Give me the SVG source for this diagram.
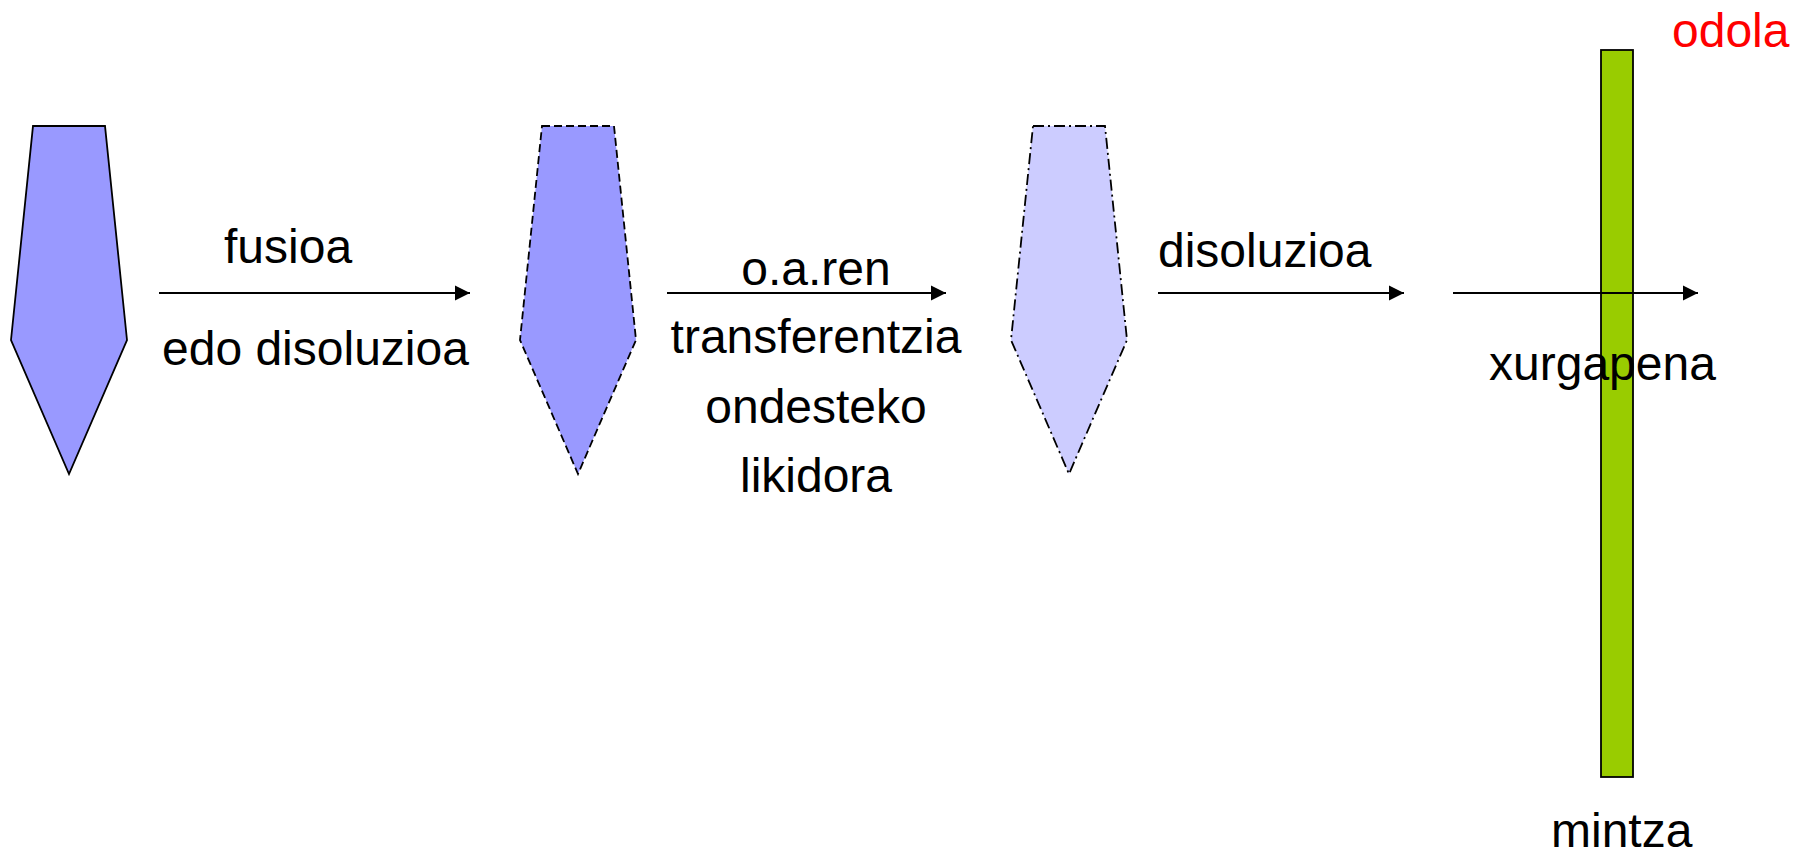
<svg xmlns="http://www.w3.org/2000/svg" width="1793" height="851" viewBox="0 0 1793 851">
<style>
text{font-family:"Liberation Sans",Arial,sans-serif;font-size:48px;fill:#000}
.shape{stroke:#000;stroke-width:1.8;stroke-linejoin:miter}
.dark{fill:#9999FF}
.light{fill:#CCCCFF}
.dash{stroke-dasharray:8 4}
.dashdot{stroke-dasharray:11 4 2 4}
.conn{stroke:#000;stroke-width:2;fill:none;marker-end:url(#ah)}
</style>
<defs>
<marker id="ah" markerUnits="userSpaceOnUse" markerWidth="16" markerHeight="16" refX="15" refY="8" orient="auto">
<path d="M0,0.5 L15,8 L0,15.5 Z" fill="#000"/>
</marker>
</defs>
<rect width="1793" height="851" fill="#fff"/>
<g id="membrane">
<rect x="1601" y="50" width="32" height="727" fill="#99CC00" stroke="#000" stroke-width="1.8"/>
</g>
<g id="tablet1">
<polygon class="shape dark" points="33,126 105,126 127,340 69,474 11,340"/>
</g>
<g id="tablet2">
<polygon class="shape dark dash" points="542,126 614,126 636,340 578,474 520,340"/>
</g>
<g id="tablet3">
<polygon class="shape light dashdot" points="1033,126 1105,126 1127,340 1069,474 1011,340"/>
</g>
<g id="connectors">
<line class="conn" x1="159" y1="293" x2="470" y2="293"/>
<line class="conn" x1="667" y1="293" x2="946" y2="293"/>
<line class="conn" x1="1158" y1="293" x2="1404" y2="293"/>
<line class="conn" x1="1453" y1="293" x2="1698" y2="293"/>
</g>
<g id="labels">
<text x="224" y="263">fusioa</text>
<text x="162" y="365">edo disoluzioa</text>
<text x="816" y="285" text-anchor="middle">o.a.ren</text>
<text x="816" y="353" text-anchor="middle">transferentzia</text>
<text x="816" y="423" text-anchor="middle">ondesteko</text>
<text x="816" y="492" text-anchor="middle">likidora</text>
<text x="1158" y="267">disoluzioa</text>
<text x="1489" y="380">xurgapena</text>
<text x="1672" y="47" style="fill:#FF0000">odola</text>
<text x="1551" y="847">mintza</text>
</g>
</svg>
